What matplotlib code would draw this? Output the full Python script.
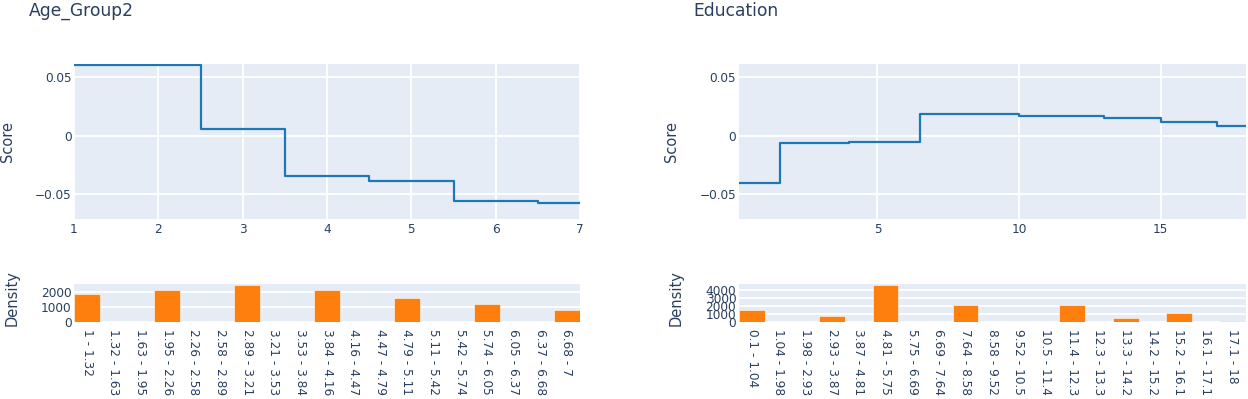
import numpy as np
import matplotlib
matplotlib.use('Agg')
import matplotlib.pyplot as plt

##############################################################################
# data
age_x = [1, 2, 3, 4, 5, 6, 7]
age_score = [0.0603, 0.0603, 0.0057, -0.0343, -0.0383, -0.0557, -0.0570]
age_bins = ['1 - 1.32', '1.32 - 1.63', '1.63 - 1.95', '1.95 - 2.26', '2.26 - 2.58',
            '2.58 - 2.89', '2.89 - 3.21', '3.21 - 3.53', '3.53 - 3.84', '3.84 - 4.16',
            '4.16 - 4.47', '4.47 - 4.79', '4.79 - 5.11', '5.11 - 5.42', '5.42 - 5.74',
            '5.74 - 6.05', '6.05 - 6.37', '6.37 - 6.68', '6.68 - 7']
age_density = [1870, 0, 0, 2136, 0, 0, 2477, 0, 0, 2136, 0, 0, 1636, 0, 0, 1227, 0, 0, 818]

edu_x = [0.1, 3, 5, 8, 12, 14, 16, 18]
edu_score = [-0.0406, -0.0063, -0.0054, 0.0186, 0.0169, 0.0151, 0.0117, 0.0088]
edu_bins = ['0.1 - 1.04', '1.04 - 1.98', '1.98 - 2.93', '2.93 - 3.87', '3.87 - 4.81',
            '4.81 - 5.75', '5.75 - 6.69', '6.69 - 7.64', '7.64 - 8.58', '8.58 - 9.52',
            '9.52 - 10.5', '10.5 - 11.4', '11.4 - 12.3', '12.3 - 13.3', '13.3 - 14.2',
            '14.2 - 15.2', '15.2 - 16.1', '16.1 - 17.1', '17.1 - 18']
edu_density = [1500, 0, 0, 750, 0, 4583, 0, 0, 2125, 0, 0, 0, 2125, 0, 500, 0, 1083, 0, 110]

score_ticks = [-0.05, 0, 0.05]
score_labels = ['\u22120.05', '0', '0.05']
##############################################################################
plt.rcParams['font.family'] = ['DejaVu Sans']
txt = '#2a3f5f'
bg = '#E5ECF6'
W, H = 1248, 399
fig = plt.figure(figsize=(W / 100, H / 100), dpi=100)

def box(x0, y0, x1, y1):
    # pixel box (top-left origin) -> figure fraction
    return [x0 / W, 1 - y1 / H, (x1 - x0) / W, (y1 - y0) / H]

def style(ax):
    ax.set_facecolor(bg)
    for s in ax.spines.values():
        s.set_visible(False)
    ax.grid(True, color='white', linewidth=1.3)
    ax.set_axisbelow(True)
    ax.tick_params(length=0, labelsize=8.7, colors=txt)

panels = [
    ('Age_Group2', 74, 580, age_x, age_score, (1, 7), [1, 2, 3, 4, 5, 6, 7],
     age_bins, age_density, 2600, [0, 1000, 2000], 29),
    ('Education', 738.7, 1245.7, edu_x, edu_score, (0.1, 18), [5, 10, 15],
     edu_bins, edu_density, 4770, [0, 1000, 2000, 3000, 4000], 693),
]

for title, xl, xr, sx, sy, xlim, xt, bins, dens, dtop, dt, tx in panels:
    ax = fig.add_axes(box(xl, 64.3, xr, 219))
    style(ax)
    ax.plot(sx, sy, drawstyle='steps-mid', color='#1f77b4', linewidth=1.6)
    ax.set_xlim(xlim)
    ax.set_ylim(-0.0711, 0.0611)
    ax.set_xticks(xt)
    ax.set_xticklabels([str(v) for v in xt])
    ax.set_yticks(score_ticks)
    ax.set_yticklabels(score_labels)
    ax.tick_params(axis='x', pad=2.6)
    ax.tick_params(axis='y', pad=1.8)
    ax.set_ylabel('Score', fontsize=10.5, color=txt)
    ax.yaxis.set_label_coords(-0.117, 0.5)
    fig.text(tx / W, 1 - 16 / H, title, fontsize=12.3, color=txt, va='baseline', ha='left')

    bx = fig.add_axes(box(xl, 283.5, xr, 322))
    style(bx)
    bx.grid(False, axis='x')
    pos = np.arange(len(bins))
    bx.bar(pos, dens, width=0.97, color='#ff7f0e', edgecolor='white', linewidth=0.4)
    bx.set_xlim(-0.5, len(bins) - 0.5)
    bx.set_ylim(0, dtop)
    bx.set_yticks(dt)
    bx.set_yticklabels([str(v) for v in dt])
    bx.set_xticks(pos)
    bx.set_xticklabels(bins, rotation=-90, va='top', ha='center')
    bx.tick_params(axis='x', pad=5)
    bx.tick_params(axis='y', pad=1.8)
    bx.set_ylabel('Density', fontsize=10.5, color=txt)
    bx.yaxis.set_label_coords(-0.108, 0.62)

fig.savefig('out.png', dpi=100)
